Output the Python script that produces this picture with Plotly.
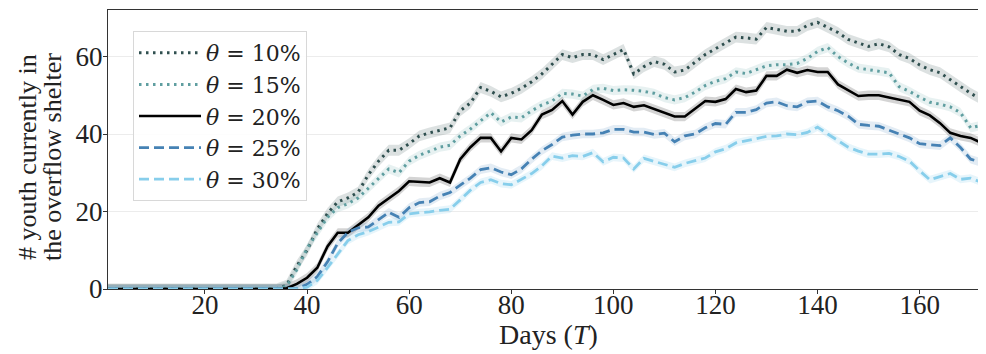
import plotly.graph_objects as go

days = [1, 34] + list(range(36, 173, 2)) + [173]

theta_10 = [0, 0, 1.0, 6, 10, 15.5, 19.5, 22.5, 23.5, 25, 29.5, 33, 35.8, 35.8, 37.5, 39.5, 40.3, 41, 41.6, 46, 48, 52,
            51, 49.6, 50.5, 51.8, 53.5, 55.5, 58, 60.5, 59.7, 60.5, 60.5, 59.2, 60.5, 61.8, 55.5, 57.4, 58.7, 58, 56,
            56.5, 58.5, 60.5, 62, 63.5, 65, 64.8, 64.5, 67.5, 67, 66.5, 66.5, 68, 68.8, 67.5, 66.2, 64.4, 63.6, 62.6,
            63.3, 62.5, 60.5, 59.5, 57.8, 56.6, 55.8, 54, 52.2, 50.5, 49, 48.3]
theta_15 = [0, 0, 0.8, 5, 10.5, 14.5, 18.5, 21, 22, 23.5, 26, 28.5, 31, 30, 33, 34.5, 35.5, 36.6, 37.1, 39.5, 41.3, 43.5,
            45.5, 43.1, 44.4, 44.2, 46, 47.5, 48.5, 50.5, 50.3, 49.8, 51.5, 51.8, 51.2, 51.4, 51.3, 51, 50.5, 49.4, 48.8,
            49.4, 50.8, 52.5, 53.6, 54.3, 56, 55.6, 56.6, 57.6, 57.9, 57.9, 58.2, 59.5, 61.3, 62.3, 60, 58.3, 57, 56.6,
            56.3, 55.8, 52.2, 51, 49.5, 48.2, 47.7, 47, 45.5, 41.6, 42.2, 42.5]
theta_20 = [0, 0, 0.2, 1.3, 2.9, 5.5, 11, 14.5, 14.5, 16.5, 18.5, 21.5, 23.5, 25.3, 27.8, 27.6, 27.5, 28.6, 27.5, 33.5,
            36.6, 39, 39, 35.5, 39, 38.6, 41, 45, 46.2, 48.5, 45, 48.3, 50, 48.8, 47.5, 48, 47, 47.4, 46.5, 45.5, 44.5,
            44.5, 46.5, 48.5, 48.3, 49, 51.6, 50.8, 51.2, 55, 55, 56.6, 55.8, 56.5, 56, 56, 52.8, 51.4, 49.8, 50, 50,
            49.4, 48.8, 48.3, 46, 44.8, 42.8, 40.3, 39.5, 39, 37.8, 38]
theta_25 = [0, 0, 0, 0.1, 1.2, 3.2, 7, 11.8, 14.6, 15.8, 16, 18, 19.8, 18.5, 21, 22.3, 22.5, 24, 24.9, 26.8, 28.6, 30.8,
            31.3, 30.2, 29.5, 31, 33.5, 35.7, 37.3, 39.2, 39.7, 40, 40, 40.3, 41.2, 41.2, 40.5, 40.5, 39.9, 40.2, 38,
            39.5, 40, 41.6, 42.7, 42.5, 45.6, 45.6, 46.3, 48, 48.3, 47.3, 47, 48.3, 48.5, 47, 46, 44.6, 42.5, 42.2, 42,
            41, 40, 39, 37.5, 37.2, 37, 39, 36.5, 33.5, 32.7, 32.8]
theta_30 = [0, 0, 0, 0, 0.5, 2.2, 5.5, 9, 12.5, 14, 14.8, 16, 17.2, 17.3, 19.4, 19.7, 19.9, 20.3, 20.6, 23, 25.5, 27.5,
            28.2, 27.2, 26.9, 28.3, 29.8, 31.8, 34.3, 33.8, 34.4, 34.2, 35.2, 32.8, 34, 33.8, 31, 33.7, 32.9, 32.2, 31.4,
            32.4, 33.1, 33.8, 35.4, 36.2, 37.7, 38.2, 38.8, 39.4, 39.5, 40, 39.8, 40.4, 41.8, 40, 38.3, 36.6, 35.6, 34.8,
            34.8, 35, 34.2, 33, 30.5, 28.2, 29, 29.8, 28.3, 28.6, 27.6, 27.5]

ci_half = [1.4, 1.2, 1.2, 1.1, 1.0]
labels = ["10%", "15%", "20%", "25%", "30%"]
series = [theta_10, theta_15, theta_20, theta_25, theta_30]
x_ticks = [20, 40, 60, 80, 100, 120, 140, 160]
y_ticks = [0, 20, 40, 60]

colors = ["#2f4f4f", "#5f9ea0", "#000000", "#4682b4", "#87ceeb"]
band_colors = ["rgba(47,79,79,0.17)", "rgba(95,158,160,0.15)", "rgba(0,0,0,0.17)",
               "rgba(70,130,180,0.15)", "rgba(135,206,235,0.2)"]
dashes = ["2.5px,4.5px", "2.5px,4.5px", "solid", "10px,5px", "10px,5px"]
widths = [3, 3, 2.6, 2.8, 2.8]

FONT = "Liberation Serif"
LFONT = "DejaVu Serif"

# page has an 8px body margin; figure is sized to fit the visible window
W, H = 978, 346
ML, MT, MB = 100, 2, 65
PW, PH = W - ML, H - MT - MB


def px(xp):
    return (xp - 8 - ML) / PW


def py(yp):
    return (H - MB - (yp - 8)) / PH


fig = go.Figure()
for vals, h, bc in zip(series, ci_half, band_colors):
    up = [v + h for v in vals]
    lo = [v - h for v in vals]
    fig.add_trace(go.Scatter(x=days + days[::-1], y=up + lo[::-1], fill="toself", fillcolor=bc,
                             line=dict(width=0), hoverinfo="skip", showlegend=False))
for vals, lab, c, d, w in zip(series, labels, colors, dashes, widths):
    fig.add_trace(go.Scatter(x=days, y=vals, mode="lines", name="<i>θ</i> = " + lab,
                             line=dict(color=c, dash=d, width=w)))

fig.update_layout(
    width=W, height=H,
    margin=dict(l=ML, r=0, t=MT, b=MB),
    paper_bgcolor="white", plot_bgcolor="white",
    font=dict(family=FONT, size=26, color="#222"),
    legend=dict(x=px(133), y=py(31), xanchor="left", yanchor="top",
                bgcolor="rgba(255,255,255,0.9)", bordercolor="#d8d8d8", borderwidth=1,
                font=dict(size=22, family=LFONT, color="#222"), itemwidth=62, tracegroupgap=0),
    showlegend=True,
    annotations=[
        dict(text="# youth currently in", xref="paper", yref="paper",
             x=px(27), y=py(157), textangle=-90, showarrow=False,
             xanchor="center", yanchor="middle", font=dict(size=26, family=FONT, color="#222")),
        dict(text="the overflow shelter", xref="paper", yref="paper",
             x=px(52), y=py(157), textangle=-90, showarrow=False,
             xanchor="center", yanchor="middle", font=dict(size=26, family=FONT, color="#222")),
        dict(text="Days (<i>T</i>)", xref="paper", yref="paper",
             x=px(548), y=py(334), showarrow=False,
             xanchor="center", yanchor="middle", font=dict(size=28, family=FONT, color="#222")),
    ],
)
fig.update_xaxes(range=[1, 173], tickvals=x_ticks, automargin=False,
                 showgrid=False, zeroline=False, showline=True, linecolor="#333", linewidth=1.2,
                 mirror=True, ticks="outside", ticklen=4, tickcolor="#333", ticklabelstandoff=-13,
                 tickfont=dict(size=27, family=FONT, color="#222"))
fig.update_yaxes(range=[0, 72], tickvals=y_ticks, automargin=False,
                 showgrid=True, gridcolor="#ececec", gridwidth=1.2, zeroline=False,
                 showline=True, linecolor="#333", linewidth=1.2, mirror=True,
                 ticks="outside", ticklen=4, tickcolor="#333", ticklabelstandoff=-5,
                 tickfont=dict(size=27, family=FONT, color="#222"))

fig.write_html("out.html")
